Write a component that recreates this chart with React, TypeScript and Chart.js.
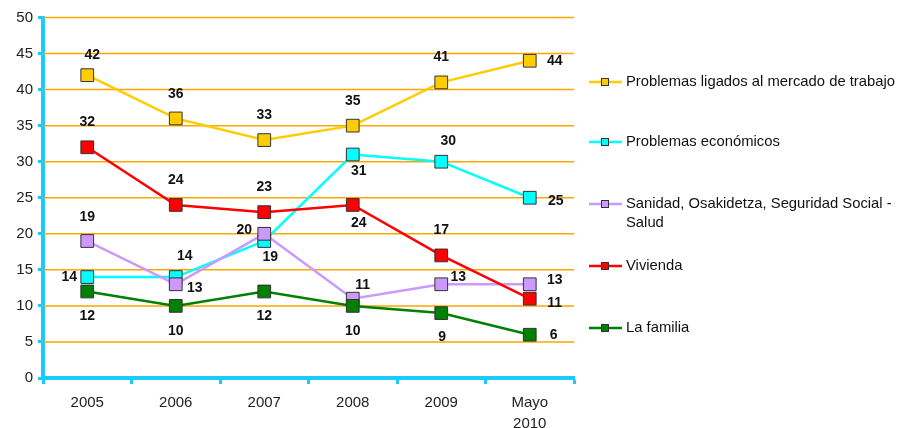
import React, { useEffect, useRef } from 'react';
import { Chart, registerables } from 'chart.js';
Chart.register(...registerables);

const categories: (string | string[])[] = ['2005', '2006', '2007', '2008', '2009', ['Mayo', '2010']];
const seriesNames = [
  'Problemas ligados al mercado de trabajo',
  'Problemas económicos',
  'Sanidad, Osakidetza, Seguridad Social - Salud',
  'Vivienda',
  'La familia',
];
const legendLines = [
  ['Problemas ligados al mercado de trabajo'],
  ['Problemas económicos'],
  ['Sanidad, Osakidetza, Seguridad Social -', 'Salud'],
  ['Vivienda'],
  ['La familia'],
];
const trabajo = [42, 36, 33, 35, 41, 44];
const economicos = [14, 14, 19, 31, 30, 25];
const sanidad = [19, 13, 20, 11, 13, 13];
const vivienda = [32, 24, 23, 24, 17, 11];
const familia = [12, 10, 12, 10, 9, 6];
const yMin = 0;
const yMax = 50;
const yStep = 5;

// styling / placement (not data)
const colors = ['#FFCC00', '#00FFFF', '#CC99FF', '#FF0000', '#008000'];
const labelOffsets: number[][][] = [
  [[5, -20], [0, -24], [0, -25], [0, -25], [0, -25], [25, 0]],
  [[-18, 0], [9, -21], [6, 16], [6, 17], [7, -21], [26, 3]],
  [[0, -24], [19, 4], [-20, -4], [10, -14], [17, -7], [25, -4]],
  [[0, -25], [0, -25], [0, -25], [6, 18], [0, -25], [25, 4]],
  [[0, 25], [0, 25], [0, 25], [0, 25], [1, 24], [24, 0]],
];
const legendY = [82, 142, 204, 266, 328];
const FONT = 'Arial, "Liberation Sans", sans-serif';
const AXIS = '#1BCBFF';
const GRID = '#FFA500';

const gridPlugin = {
  id: 'orangeGrid',
  beforeDatasetsDraw(chart: any) {
    const ctx = chart.ctx;
    const y = chart.scales.y;
    const area = chart.chartArea;
    ctx.save();
    ctx.strokeStyle = GRID;
    ctx.lineWidth = 1.5;
    y.ticks.forEach((t: any) => {
      if (t.value === yMin) return;
      const py = y.getPixelForValue(t.value);
      ctx.beginPath();
      ctx.moveTo(area.left, py);
      ctx.lineTo(area.right, py);
      ctx.stroke();
    });
    ctx.restore();
  },
};

const labelPlugin = {
  id: 'pointLabels',
  afterDatasetsDraw(chart: any) {
    const ctx = chart.ctx;
    ctx.save();
    ctx.font = `bold 14px ${FONT}`;
    ctx.fillStyle = '#111';
    ctx.textAlign = 'center';
    ctx.textBaseline = 'middle';
    chart.data.datasets.forEach((ds: any, i: number) => {
      const meta = chart.getDatasetMeta(i);
      meta.data.forEach((pt: any, j: number) => {
        const off = labelOffsets[i][j];
        ctx.fillText(String(ds.data[j]), pt.x + off[0], pt.y + off[1]);
      });
    });
    ctx.restore();
  },
};

const legendPlugin = {
  id: 'sideLegend',
  afterDraw(chart: any) {
    const ctx = chart.ctx;
    ctx.save();
    legendLines.forEach((lines, i) => {
      const y = legendY[i];
      ctx.strokeStyle = colors[i];
      ctx.lineWidth = 2.5;
      ctx.beginPath();
      ctx.moveTo(589, y);
      ctx.lineTo(622, y);
      ctx.stroke();
      ctx.fillStyle = colors[i];
      ctx.fillRect(601.5, y - 3.5, 7, 7);
      ctx.strokeStyle = '#333';
      ctx.lineWidth = 1;
      ctx.strokeRect(601.5, y - 3.5, 7, 7);
      ctx.fillStyle = '#111';
      ctx.font = `14.8px ${FONT}`;
      ctx.textAlign = 'left';
      ctx.textBaseline = 'middle';
      lines.forEach((t, k) => ctx.fillText(t, 626, y + k * 19));
    });
    ctx.restore();
  },
};

export default function App() {
  const ref = useRef<HTMLCanvasElement | null>(null);
  useEffect(() => {
    document.body.style.margin = '0';
    const seriesData = [trabajo, economicos, sanidad, vivienda, familia];
    const chart = new Chart(ref.current as HTMLCanvasElement, {
      type: 'line',
      data: {
        labels: categories as any,
        datasets: seriesData.map((d, i) => ({
          label: seriesNames[i],
          data: d,
          borderColor: colors[i],
          backgroundColor: colors[i],
          borderWidth: 2.5,
          pointStyle: 'rect',
          pointRadius: 9,
          pointHoverRadius: 9,
          pointBackgroundColor: colors[i],
          pointBorderColor: '#333',
          pointBorderWidth: 1,
          tension: 0,
          order: 5 - i,
        })),
      },
      options: {
        animation: false,
        responsive: false,
        maintainAspectRatio: false,
        layout: { padding: { left: 0, right: 328, top: 17.5, bottom: 0 } },
        plugins: { legend: { display: false }, tooltip: { enabled: false } },
        scales: {
          x: {
            offset: true,
            grid: {
              offset: true,
              drawOnChartArea: false,
              color: AXIS,
              tickColor: AXIS,
              tickWidth: 3,
              tickLength: 6,
            },
            border: { color: AXIS, width: 4 },
            ticks: {
              color: '#222',
              font: { family: FONT, size: 15, lineHeight: 1.35 },
              padding: 9,
              maxRotation: 0,
              autoSkip: false,
            },
            afterFit: (s: any) => { s.height = 50; },
          },
          y: {
            min: yMin,
            max: yMax,
            ticks: {
              stepSize: yStep,
              color: '#222',
              font: { family: FONT, size: 15 },
              padding: 5,
            },
            grid: {
              drawOnChartArea: false,
              color: AXIS,
              tickColor: AXIS,
              tickWidth: 3,
              tickLength: 5,
            },
            border: { color: AXIS, width: 4 },
            afterFit: (s: any) => { s.width = 43; },
          },
        },
      },
      plugins: [gridPlugin, labelPlugin, legendPlugin],
    });
    return () => chart.destroy();
  }, []);
  return <canvas ref={ref} width={902} height={428} style={{ display: 'block' }} />;
}
